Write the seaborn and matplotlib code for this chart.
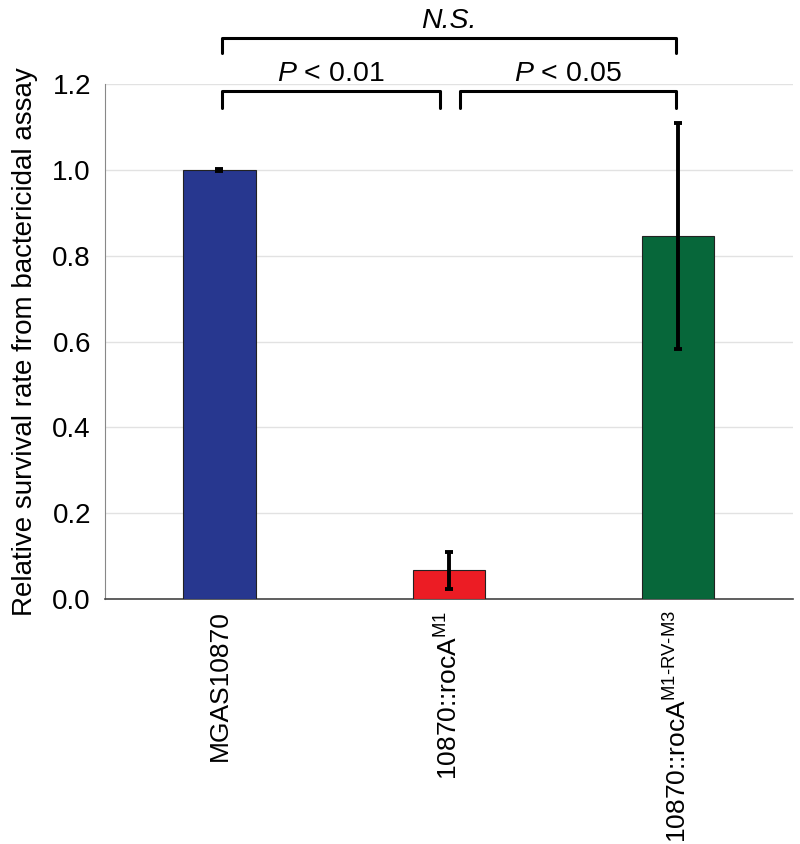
import pandas as pd
import seaborn as sns
import matplotlib.pyplot as plt

# dane
strains = ["MGAS10870", "10870::rocA$^{\\mathrm{M1}}$", "10870::rocA$^{\\mathrm{M1\\text{-}RV\\text{-}M3}}$"]
survival = [1.0, 0.067, 0.845]
errors = [0.002, 0.043, 0.263]
colors = ["#27378f", "#ec1c24", "#07673a"]
yticks = [0.0, 0.2, 0.4, 0.6, 0.8, 1.0, 1.2]

# porownania: (od, do, tekst, poziom)
comparisons = [
    (0, 1, "$\\it{P}$ < 0.01", 1.184),
    (1, 2, "$\\it{P}$ < 0.05", 1.184),
    (0, 2, "N.S.", 1.308),
]

sns.set_style("white")
plt.rcParams["font.family"] = ["Liberation Sans", "DejaVu Sans"]
plt.rcParams["mathtext.fontset"] = "custom"
plt.rcParams["mathtext.rm"] = "Liberation Sans"
plt.rcParams["mathtext.it"] = "Liberation Sans:italic"
plt.rcParams["text.color"] = "black"
plt.rcParams["xtick.color"] = "black"
plt.rcParams["ytick.color"] = "black"
plt.rcParams["axes.labelcolor"] = "black"

df = pd.DataFrame({"strain": strains, "survival": survival})

fig = plt.figure(figsize=(8, 8.44), dpi=100)
ax = fig.add_axes([0.131, 0.290, 0.860, 0.6105])

sns.barplot(data=df, x="strain", y="survival", hue="strain", palette=colors,
            saturation=1, width=0.315, errorbar=None, legend=False, ax=ax,
            edgecolor="#222222", linewidth=0.8, zorder=3)

ax.errorbar(x=range(len(strains)), y=survival, yerr=errors, fmt="none",
            ecolor="black", elinewidth=2.8, capsize=3, capthick=2.8, zorder=4)

ax.set_ylim(0, 1.2)
ax.set_xlim(-0.5, 2.5)
ax.set_yticks(yticks)
ax.set_yticklabels([f"{v:.1f}" for v in yticks], fontsize=20)
ax.yaxis.grid(True, color="#e2e2e2", linewidth=1, zorder=0)
ax.set_axisbelow(True)
ax.tick_params(axis="x", labelrotation=90, labelsize=19, pad=8, length=0)
ax.tick_params(axis="y", length=0, pad=10)
ax.set_xlabel("")
ax.set_ylabel("Relative survival rate from bactericidal assay", fontsize=20, labelpad=10)

sns.despine(ax=ax, top=True, right=True)
ax.spines["left"].set_color("#888888")
ax.spines["bottom"].set_color("#444444")
ax.spines["bottom"].set_linewidth(1.2)

# klamry istotnosci
for a, b, label, level in comparisons:
    xa = a + 0.01
    xb = b - 0.01
    if a == 1:
        xa = a + 0.05
    if b == 1:
        xb = b - 0.04
    drop = 0.04 if level < 1.25 else 0.036
    ax.plot([xa, xa, xb, xb], [level - drop, level, level, level - drop],
            color="black", linewidth=2.2, clip_on=False, zorder=5)
    ax.text((xa + xb) / 2, level + 0.008, label, ha="center", va="bottom",
            fontsize=20.5, style="italic" if label == "N.S." else "normal", clip_on=False)

fig.savefig("out.png", dpi=100)
